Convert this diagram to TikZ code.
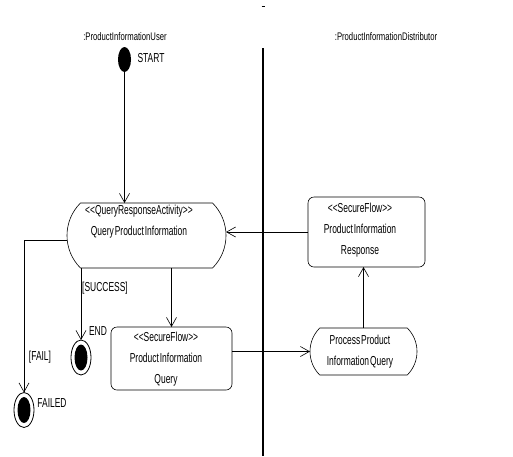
\documentclass[tikz,border=0pt]{standalone}
\usepackage{fontspec}
\setmainfont{Liberation Sans}
\newfontfamily\condfont[FakeStretch=0.65,WordSpace=0.4]{Liberation Sans}
\newfontfamily\lanefont[FakeStretch=0.7,WordSpace=0.4]{Liberation Sans}
\usetikzlibrary{shapes.geometric,shapes.misc,arrows.meta}

\begin{document}
\begin{tikzpicture}[x=1pt,y=-1pt,
  every node/.style={inner sep=0pt,outer sep=0pt},
  flow/.style={draw, line width=0.6pt,
    -{Straight Barb[length=9pt,width=10pt,line width=0.6pt]}},
  txt/.style={font=\condfont\fontsize{13}{21}\selectfont, align=center},
  lane/.style={font=\lanefont\fontsize{11}{13}\selectfont},
  activity/.style={draw, line width=0.6pt, rounded rectangle,
    rounded rectangle arc length=90},
  securebox/.style={draw, line width=0.6pt, rectangle, rounded corners=6pt},
  initial/.style={ellipse, fill=black, minimum width=13pt, minimum height=25pt},
  final/.style={ellipse, draw, line width=0.8pt, minimum width=20pt, minimum height=35pt}]

\fill[white] (0,0) rectangle (513,456);
\useasboundingbox (0,0) rectangle (513,456);

% swimlane headers and partition
\draw[line width=0.6pt] (261.5,6) -- (265,6);
\node[lane] (user-lane) at (125,37) {:ProductInformationUser};
\node[lane] (dist-lane) at (386,37) {:ProductInformationDistributor};
\draw[line width=2pt] (263,48) -- (263,456);

% start state
\node[initial] (start) at (124.5,59.5) {};
\node[txt] (start-lbl) at (151,58) {START};

% activities
\node[activity, minimum width=159pt, minimum height=65pt] (qa) at (146.5,235.5) {};
\node[txt] (qa-text) at (139,222) {<<QueryResponseActivity>>\\Query Product Information};

\node[securebox, minimum width=121pt, minimum height=63pt] (sfq) at (171.5,358.5) {};
\node[txt] (sfq-text) at (166,359) {<<SecureFlow>>\\Product Information\\Query};

\node[activity, minimum width=107pt, minimum height=47pt] (proc) at (363.5,351.5) {};
\node[txt] (proc-text) at (360,352) {Process Product\\Information Query};

\node[securebox, minimum width=117pt, minimum height=70pt] (resp) at (366.5,232) {};
\node[txt] (resp-text) at (360,230) {<<SecureFlow>>\\Product Information\\Response};

% final states
\node[final] (endc) at (81,357.5) {};
\fill (endc) ellipse [x radius=6.5pt, y radius=13pt];
\node[txt] (end-lbl) at (98,331) {END};

\node[final] (failed) at (24,410) {};
\fill (failed) ellipse [x radius=6.5pt, y radius=13pt];
\node[txt] (failed-lbl) at (52,403) {FAILED};

% guards
\node[txt] (success-guard) at (105,288) {[SUCCESS]};
\node[txt] (fail-guard) at (40,357) {[FAIL]};

% control flows
\draw[flow] (start.south) -- (start.south |- qa.north);
\draw[flow] (endc.north |- qa.south) -- (endc.north);
\draw[flow] ([yshift=-5pt]qa.west) -| (failed.north);
\draw[flow] (sfq.north |- qa.south) -- (sfq.north);
\draw[flow] (sfq.east |- proc.west) -- (proc.west);
\draw[flow] (proc.north) -- (proc.north |- resp.south);
\draw[flow] (resp.west) -- (qa.east |- resp.west);

\end{tikzpicture}
\end{document}
